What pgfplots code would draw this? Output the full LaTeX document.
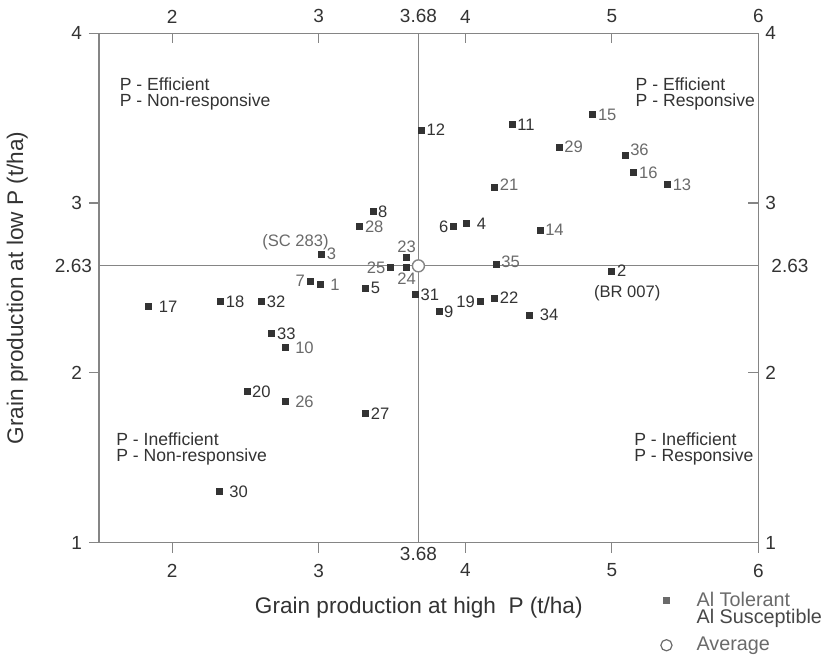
\documentclass[border=0pt]{standalone}
\usepackage{fontspec}
\setmainfont{Liberation Sans}
\usepackage{pgfplots}
\pgfplotsset{compat=1.18}

\definecolor{dk}{HTML}{333333}
\definecolor{lt}{HTML}{6A6A6A}
\definecolor{framec}{HTML}{858585}

\pgfplotsset{
  geno/.style 2 args={only marks, mark=square*, mark size=1.5pt,
    mark options={draw=dk, fill=dk},
    nodes near coords, point meta=explicit symbolic,
    every node near coord/.append style={anchor=#2,
      font=\fontsize{8.3}{9}\selectfont, inner sep=2.4pt, text=#1},
    forget plot},
  frame/.style={width=330pt, height=255pt, scale only axis,
    xmin=1.5, xmax=6, ymin=1, ymax=4,
    axis line style={framec, line width=0.6pt},
    every tick/.style={framec, line width=0.6pt},
    major tick length=5pt,
    xtick={2,3,4,5,6}, ytick={1,2,3,4},
    extra x ticks={3.68}, extra x tick labels={3.68},
    extra y ticks={2.63}, extra y tick labels={2.63},
    /pgf/number format/assume math mode=true,
    tick label style={font=\fontsize{9.5}{10}\selectfont, text=dk}},
}

\begin{document}
\begin{tikzpicture}
\begin{axis}[frame,
    tick align=outside,
    xtick pos=left, ytick pos=left,
    xticklabel style={yshift=-2pt},
    extra tick style={major tick length=0pt},
    extra x tick style={major tick length=0pt, tick label style={yshift=3.5pt}},
    xlabel={Grain production at high\ \ P (t/ha)},
    ylabel={Grain production at low P (t/ha)},
    label style={font=\fontsize{11.3}{12}\selectfont, text=dk},
    xlabel style={at={(axis description cs:0.485,-0.128)}, anchor=center},
    ylabel style={at={(axis description cs:-0.124,0.5)}, anchor=center},
    legend style={draw=none, fill=none, at={(0.825,-0.08)}, anchor=north west,
      font=\fontsize{9.9}{10}\selectfont, row sep=-4pt, column sep=10pt},
    legend cell align=left,
  ]
  \addlegendimage{only marks, mark=square*, mark size=1.5pt, draw=lt, fill=lt}
  \addlegendentry{\textcolor{lt}{Al Tolerant}}
  \addlegendimage{empty legend}
  \addlegendentry{\textcolor{dk!90}{Al Susceptible}}
  \addlegendimage{legend image code/.code={
      \draw[lt, line width=0.6pt] (0.3cm,-5pt) circle (2.8pt);}}
  \addlegendentry{\raisebox{-5pt}[7.2pt][5.5pt]{\textcolor{lt}{Average}}}

  \addplot[framec, line width=0.6pt, forget plot] coordinates {(3.68,1) (3.68,4)};
  \addplot[framec, line width=0.6pt, forget plot] coordinates {(1.5,2.63) (6,2.63)};

  % Al susceptible genotypes (dark labels)
  \addplot[geno={dk}{west}] coordinates {
    (3.70,3.43) [12] (3.37,2.95) [8] (4.32,3.46) [11]
    (3.66,2.46) [31] (3.82,2.36) [9] (4.20,2.44) [22]
    (5.00,2.60) [2] (2.33,2.42) [18] (2.61,2.42) [32]
    (2.68,2.23) [33] (2.51,1.89) [20] (3.32,1.76) [27]
    (3.32,2.50) [5]
  };
  \addplot[geno={dk}{west}, every node near coord/.append style={xshift=2.5pt}]
    coordinates {(4.01,2.88) [4] (1.84,2.39) [17] (4.44,2.34) [34] (2.32,1.30) [30]};
  \addplot[geno={dk}{east}] coordinates {
    (3.92,2.86) [6] (4.10,2.42) [19]
  };

  % Al tolerant genotypes (grey labels)
  \addplot[geno={lt}{west}] coordinates {
    (3.28,2.86) [28] (3.02,2.70) [3] (4.87,3.52) [15]
    (4.64,3.33) [29] (5.15,3.18) [16] (5.38,3.11) [13] (4.51,2.84) [14]
  };
  \addplot[geno={lt}{west}, every node near coord/.append style={xshift=2.5pt}]
    coordinates {(3.01,2.52) [1] (2.77,2.15) [10] (2.77,1.83) [26]};
  \addplot[geno={lt}{east}] coordinates {
    (3.49,2.62) [25] (2.94,2.54) [7]
  };
  \addplot[geno={lt}{south}] coordinates {(3.60,2.68) [23]};
  \addplot[geno={lt}{north}] coordinates {(3.60,2.62) [24]};
  \addplot[geno={lt}{200}] coordinates {(5.09,3.28) [36]};
  \addplot[geno={lt}{190}] coordinates {(4.20,3.09) [21] (4.21,2.64) [35]};

  % average
  \addplot[only marks, mark=*, mark size=3pt, draw=framec, fill=white,
    line width=0.7pt, forget plot] coordinates {(3.68,2.63)};

  \node[anchor=east, text=lt, font=\fontsize{8.3}{9}\selectfont, inner sep=0pt]
    at (axis cs:3.07,2.77) {(SC 283)};
  \node[text=dk, font=\fontsize{8.3}{9}\selectfont, inner sep=0pt]
    at (axis cs:5.105,2.47) {(BR 007)};

  \node[anchor=north west, align=left, text=dk, inner sep=0pt,
    font=\fontsize{8.8}{8}\selectfont] at (axis cs:1.64,3.74)
    {P - Efficient\\P - Non-responsive};
  \node[anchor=north west, align=left, text=dk, inner sep=0pt,
    font=\fontsize{8.8}{8}\selectfont] at (axis cs:5.16,3.74)
    {P - Efficient\\P - Responsive};
  \node[anchor=north west, align=left, text=dk, inner sep=0pt,
    font=\fontsize{8.8}{8}\selectfont] at (axis cs:1.616,1.65)
    {P - Inefficient\\P - Non-responsive};
  \node[anchor=north west, align=left, text=dk, inner sep=0pt,
    font=\fontsize{8.8}{8}\selectfont] at (axis cs:5.15,1.65)
    {P - Inefficient\\P - Responsive};
\end{axis}

\begin{axis}[frame,
    axis line style={draw=none},
    tick align=inside,
    xtick pos=right, ytick pos=right,
    xticklabel pos=right, yticklabel pos=right,
    xticklabel style={yshift=1.5pt},
    extra tick style={major tick length=0pt},
    extra y tick style={major tick length=0pt, tick label style={xshift=3pt}},
  ]
\end{axis}
\path ([yshift=1.5pt]current bounding box.north);
\end{tikzpicture}
\end{document}
